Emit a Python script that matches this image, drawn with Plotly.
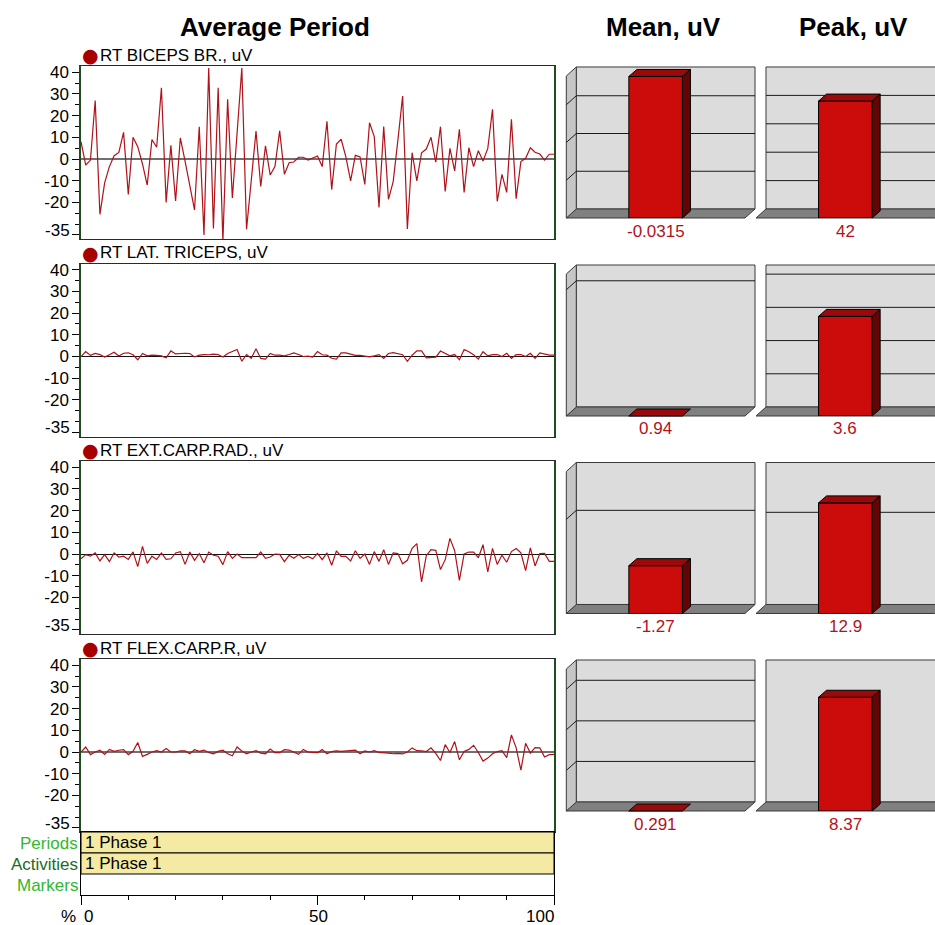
import plotly.graph_objects as go

# ---------------------------------------------------------------- data
PCT = list(range(0, 101))

CHANNELS = ["RT BICEPS BR., uV", "RT LAT. TRICEPS, uV", "RT EXT.CARP.RAD., uV", "RT FLEX.CARP.R, uV"]

BICEPS = [8, -2.8, -0.5, 27, -25.5, -11, -3.5, 1.5, 3, 12.3,
          -16.3, 10, 5.7, -2.3, -12, 9, 5.4, 32.9, -20, 6.3,
          -19.4, 9.7, -1, -12, -23.5, 14.9, -35, 42, -32, 32.9,
          -38, 27.5, -18, 12, 42, -32.4, -9, 12.9, -12.7, 6.1,
          -7.4, -3.5, 13, -7, -1.7, -1.4, 0.8, 0.8, -0.5, 0.5,
          1.4, -3.5, 17.4, -14.1, 6.9, 9.1, 1, -10.1, 1.7, 1,
          -11.7, 16.7, 10.3, -22.4, 15, -18.6, -10.4, 8.8, 29, -32.3,
          2.9, -10.1, 2.9, 4.6, 10, -1.5, 14.9, -15, 4.9, -5.5,
          13.7, -15.4, 5.2, -3.5, 3.8, -0.9, 4.9, 22.9, -19.5, -7.1,
          -15.4, 18.3, -18.3, -1.2, 0.3, 5.2, 3.1, 2.3, -0.5, 2.2, 2.2]

TRICEPS = [0, 2.3, 0.5, 1.4, 0.9, -0.3, 0.8, 2.0, 0.2, 1.5,
           1.7, 0.8, -1.5, 1.4, 0.3, 0.6, 0.5, 0.3, -0.6, 2.6,
           1.2, 1.5, 1.5, 1.4, -0.2, 0.6, 0.9, 0.8, 1.1, 0.9,
           -0.2, 1.4, 2.3, 3.2, -2.2, 0.9, -0.8, 3.6, -0.9, -1.2,
           1.4, 0.6, 0.6, 0.3, 0.9, 1.7, 0.9, 0, 0.2, -0.3,
           2.3, 0.8, 0.6, -0.8, -1.2, 1.7, 1.7, 1.2, 0.5, 0.5,
           0.3, -0.2, 0.3, 0.9, -0.9, 1.4, 1.8, 1.2, 0.8, -2.2,
           0.6, 2.6, 2.6, -0.6, -0.3, -0.3, 2.5, 1.4, 0.3, 0.9,
           -1.5, 3.2, 2.2, 0.8, -1.2, 2.2, 0.3, 0.9, 0.9, 0,
           1.5, -0.9, 0.9, 0.9, 0, 1.5, -0.9, 1.7, 1.1, 0.6, 0.6]

EXT_CARP = [-2.2, -0.3, -1, 0.5, -3.2, -0.3, -3.5, 0.5, -1.4, -1,
            -2.5, 1, -5.8, 3.5, -4.3, -1, -2.5, 0.5, -2.5, -2.2,
            0.5, 1.1, -4.8, 0.9, -2.9, 0.2, -4, 0.9, -0.6, -1,
            -4.9, 1.1, -2, 0, -1.7, -1.7, -1.7, -1.7, 0.9, -2,
            -1.4, 0, -0.2, -3.5, -0.6, -2, -0.3, -2.0, -1.1, -2.2,
            0.3, -2.6, 0.5, -5.2, 1.4, -1.1, -1.1, -3.2, 1.5, -2.0,
            0, -4.8, 1.1, -3.4, 2.0, -4.8, 0.5, 0.2, -4.5, -2.9,
            2.6, 4.8, -12.9, -0.8, 2.0, 1.7, -7.2, -2.6, 7.2, 1.5,
            -12.2, 0, 0.9, 0.9, -1.7, 4.3, -8.3, 2.6, -4.8, -0.5,
            -3.8, 1.1, 2.5, 0.5, -7.7, 2.8, -5.5, 0.2, 0.3, -3.4, -3.4]

FLEX_CARP = [0, 2.3, -1.2, 0, 0.8, -1.1, 1.2, 0.3, 0.8, 1.1,
             -1.2, 0.3, 4.4, -2, -1.1, 0, 0.6, 0, 1.6, 0,
             0, 0.5, 0.5, -0.8, 1.1, 0.3, 0.9, -0.2, -0.8, 0.3,
             0.8, -0.8, -1.7, 2.3, 0.5, -0.8, 0, 0.6, -0.5, -0.8,
             1.4, -0.3, -0.3, 1.1, 0.9, 0, -1.1, 1.2, 0, -0.2,
             -0.3, 1.1, -0.8, 0.2, 0.5, 0.3, 0.5, 0.8, 0.9, -0.8,
             0.5, 0, 0.6, -0.2, -0.2, -0.5, -0.8, -0.6, -0.9, 0,
             1.9, 0.6, 0.5, 0.2, 1.9, -0.6, -3.9, 3.4, -0.2, 4.8,
             -3.6, 0.2, 1.2, 3.1, -0.2, -4.2, -2.8, -0.8, 0.2, 0.6,
             -2.6, 7.9, 1.9, -8.37, 4.0, -0.5, 2.0, 1.9, -2.3, -1.2, -1.1]

WAVES = [BICEPS, TRICEPS, EXT_CARP, FLEX_CARP]

Y_TICKS = [40, 30, 20, 10, 0, -10, -20, -35]
Y_MINOR = [35, 25, 15, 5, -5, -15, -25, -30]
Y_BOTTOM_TICK = -35            # its label sits just above the tick
X_TICKS = [0, 50, 100]
X_MINOR = [10, 20, 30, 40, 60, 70, 80, 90]

MEAN_VALUES = [-0.0315, 0.94, -1.27, 0.291]
MEAN_LABELS = ["-0.0315", "0.94", "-1.27", "0.291"]
PEAK_VALUES = [42, 3.6, 12.9, 8.37]
PEAK_LABELS = ["42", "3.6", "12.9", "8.37"]

# value-axis extents of the little 3D bar charts and their wall gridlines
MEAN_RANGE = [-0.0316, -1.125, -3.77, -0.35]
MEAN_GRID = [[-0.0084, -0.0168, -0.0252], [-1.0], [-2.5], [-0.1, -0.2, -0.3]]
PEAK_RANGE = [51, 5.13, 16.56, 10.45]
PEAK_GRID = [[10.2, 20.4, 30.6, 40.8], [1.2, 2.4, 3.6, 4.8], [10.75], []]

PERIODS = [("1 Phase 1", 0, 100)]
ACTIVITIES = [("1 Phase 1", 0, 100)]

# ---------------------------------------------------------------- geometry
W, H = 935, 925
FONT = "Liberation Sans, Arial, sans-serif"
LINE_RED = "#b0121a"
TXT = 17


def fx(p):
    return p / W


def fy(p):
    return 1 - p / H


WAVE_LEFT, WAVE_RIGHT = 81, 554
WAVE_TOPS = [66, 263.5, 461, 659]
WAVE_H = 173
Y_RANGE = [-36.9, 42.9]
ZERO_STYLE = [("#707070", 2), ("#111111", 1.2), ("#111111", 1.2), ("#707070", 2)]

STRIP_TOP, STRIP_BOTTOM = 832, 895

WALL_TOPS = [67, 265, 462.5, 660]
WALL_H = 142
DEPTH_X, DEPTH_Y = 10, 9       # wall depth (back plane -> front plane)
BAR_DX, BAR_DY = 8, 7          # bar depth
WALL_W = 178.7
MEAN_WALL_LEFT = 576.3
PEAK_WALL_LEFT = 766
BAR_WIDTH = 0.3

fig = go.Figure()
layout = dict(
    width=W, height=H,
    margin=dict(l=0, r=0, t=0, b=0, autoexpand=False),
    paper_bgcolor="white", plot_bgcolor="rgba(0,0,0,0)",
    showlegend=False,
    font=dict(family=FONT, size=TXT, color="black"),
)
shapes = []
annotations = []

# ---------------------------------------------------------------- waveform panels
for i, (name, vals) in enumerate(zip(CHANNELS, WAVES)):
    n = i + 1
    top = WAVE_TOPS[i]
    xa = "xaxis" if n == 1 else f"xaxis{n}"
    ya = "yaxis" if n == 1 else f"yaxis{n}"
    xr = "x" if n == 1 else f"x{n}"
    yr = "y" if n == 1 else f"y{n}"
    zc, zw = ZERO_STYLE[i]
    layout[xa] = dict(
        domain=[fx(WAVE_LEFT), fx(WAVE_RIGHT)], range=[0, 100], anchor=yr,
        showgrid=False, zeroline=False, showticklabels=False, ticks="",
        showline=True, mirror=True, linecolor="#2a2a2a", linewidth=1,
    )
    layout[ya] = dict(
        domain=[fy(top + WAVE_H), fy(top)], range=Y_RANGE, anchor=xr,
        showgrid=False, zeroline=True, zerolinecolor=zc, zerolinewidth=zw,
        tickmode="array", tickvals=Y_TICKS,
        ticktext=["" if v == Y_BOTTOM_TICK else str(v) for v in Y_TICKS],
        ticks="outside", ticklen=7, tickcolor="black", tickwidth=1,
        tickfont=dict(size=TXT, family=FONT, color="black"),
        minor=dict(tickmode="array", tickvals=Y_MINOR, ticks="outside",
                   ticklen=4, tickcolor="black", showgrid=False),
        showline=True, mirror=True, linecolor="#1f4d1f", linewidth=1.5,
    )
    # overlaid axis carrying only the bottom label, lifted above its tick
    lab_n = 14 + i
    layout[f"yaxis{lab_n}"] = dict(
        overlaying=yr, anchor=xr, side="left", range=Y_RANGE,
        tickmode="array", tickvals=[Y_BOTTOM_TICK], ticktext=[str(Y_BOTTOM_TICK)],
        ticks="outside", ticklen=7, tickcolor="rgba(0,0,0,0)", ticklabelshift=-5,
        tickfont=dict(size=TXT, family=FONT, color="black"),
        showgrid=False, zeroline=False, showline=False, fixedrange=True,
    )
    fig.add_trace(go.Scatter(x=[None], y=[None], xaxis=xr, yaxis=f"y{lab_n}",
                             mode="lines", hoverinfo="skip"))
    fig.add_trace(go.Scatter(
        x=PCT, y=vals, mode="lines", line=dict(color=LINE_RED, width=1.2),
        xaxis=xr, yaxis=yr, hoverinfo="skip",
    ))
    # channel caption with its colour dot
    annotations.append(dict(
        x=fx(90), y=fy(top - 11), xref="paper", yref="paper", text="●",
        showarrow=False, xanchor="center", yanchor="middle",
        font=dict(size=19, color="#a80000", family="DejaVu Sans"),
    ))
    annotations.append(dict(
        x=fx(98), y=fy(top - 11), xref="paper", yref="paper", text=name,
        showarrow=False, xanchor="left", yanchor="middle",
        font=dict(size=TXT, color="black", family=FONT),
    ))

# ---------------------------------------------------------------- periods / activities strip
layout["xaxis5"] = dict(
    domain=[fx(WAVE_LEFT), fx(WAVE_RIGHT)], range=[0, 100], anchor="y5",
    showgrid=False, zeroline=False, showticklabels=False,
    tickmode="array", tickvals=X_TICKS, ticks="outside", ticklen=9,
    tickcolor="black", tickwidth=1,
    minor=dict(tickmode="array", tickvals=X_MINOR, ticks="outside",
               ticklen=4, tickcolor="black", showgrid=False),
    showline=True, mirror=True, linecolor="black", linewidth=1,
)
layout["yaxis5"] = dict(
    domain=[fy(STRIP_BOTTOM), fy(STRIP_TOP)], range=[0, 3], anchor="x5",
    showgrid=False, zeroline=False, showticklabels=False, ticks="",
    showline=True, mirror=True, linecolor="black", linewidth=1,
)
for row_y, items in ((2.5, PERIODS), (1.5, ACTIVITIES)):
    fig.add_trace(go.Bar(
        orientation="h", y=[row_y] * len(items),
        x=[e - s for _, s, e in items], base=[s for _, s, e in items],
        width=1, marker=dict(color="#f5eaa3", line=dict(color="black", width=1)),
        xaxis="x5", yaxis="y5", hoverinfo="skip",
    ))
    for t, s, e in items:
        annotations.append(dict(
            x=s, y=row_y, xref="x5", yref="y5", text=t, showarrow=False,
            xanchor="left", yanchor="middle", xshift=2,
            font=dict(size=TXT, color="black", family=FONT),
        ))
strip_rows = [("Periods", "#2fb82f"), ("Activities", "#1d6b1d"), ("Markers", "#2fb82f")]
row_h = (STRIP_BOTTOM - STRIP_TOP) / 3
for k, (lab, col) in enumerate(strip_rows):
    annotations.append(dict(
        x=fx(79), y=fy(STRIP_TOP + row_h * (k + 0.5) + 1), xref="paper", yref="paper",
        text=lab, showarrow=False, xanchor="right", yanchor="middle", borderpad=0,
        font=dict(size=TXT, color=col, family=FONT),
    ))
for v, anchor in zip(X_TICKS, ["left", "center", "right"]):
    annotations.append(dict(
        x=v, y=fy(916), xref="x5", yref="paper", text=str(v), showarrow=False,
        xanchor=anchor, yanchor="middle", xshift=2 if anchor == "right" else 1,
        font=dict(size=TXT, color="black", family=FONT),
    ))
annotations.append(dict(
    x=fx(78), y=fy(916), xref="paper", yref="paper", text="%", showarrow=False,
    xanchor="right", yanchor="middle", font=dict(size=TXT, color="black", family=FONT),
))

# ---------------------------------------------------------------- headers
for txt, cx in (("Average Period", 275), ("Mean, uV", 663), ("Peak, uV", 853)):
    annotations.append(dict(
        x=fx(cx), y=fy(27), xref="paper", yref="paper", text=f"<b>{txt}</b>",
        showarrow=False, xanchor="center", yanchor="middle",
        font=dict(size=26, color="black", family=FONT),
    ))


# ---------------------------------------------------------------- 3D bar panels
def path(points):
    return "M " + " L ".join(f"{fx(x):.5f},{fy(y):.5f}" for x, y in points) + " Z"


def line_shape(x0, y0, x1, y1, color="#1a1a1a", width=1, layer="below"):
    return dict(type="line", xref="paper", yref="paper", x0=fx(x0), y0=fy(y0),
                x1=fx(x1), y1=fy(y1), line=dict(color=color, width=width), layer=layer)


n = 6
for r in range(4):
    wall_top = WALL_TOPS[r]
    floor = wall_top + WALL_H
    for kind, values, labels, ranges, grids, wall_left in (
        ("mean", MEAN_VALUES, MEAN_LABELS, MEAN_RANGE, MEAN_GRID, MEAN_WALL_LEFT),
        ("peak", PEAK_VALUES, PEAK_LABELS, PEAK_RANGE, PEAK_GRID, PEAK_WALL_LEFT),
    ):
        v, lab, rng, grid = values[r], labels[r], ranges[r], grids[r]
        wall_right = wall_left + WALL_W
        # back wall, floor and (for the mean chart) the left side wall
        shapes.append(dict(type="path", xref="paper", yref="paper",
                           path=path([(wall_left, wall_top), (wall_right, wall_top),
                                      (wall_right, floor), (wall_left, floor)]),
                           fillcolor="#dcdcdc", line=dict(color="#3a3a3a", width=1), layer="below"))
        shapes.append(dict(type="path", xref="paper", yref="paper",
                           path=path([(wall_left, floor), (wall_right, floor),
                                      (wall_right - DEPTH_X, floor + DEPTH_Y),
                                      (wall_left - DEPTH_X, floor + DEPTH_Y)]),
                           fillcolor="#808080", line=dict(color="#3a3a3a", width=1), layer="below"))
        if kind == "mean":
            shapes.append(dict(type="path", xref="paper", yref="paper",
                               path=path([(wall_left, wall_top), (wall_left, floor),
                                          (wall_left - DEPTH_X, floor + DEPTH_Y),
                                          (wall_left - DEPTH_X, wall_top + DEPTH_Y)]),
                               fillcolor="#c6c6c6", line=dict(color="#3a3a3a", width=1), layer="below"))
        for g in grid:
            gy = floor - WALL_H * g / rng
            shapes.append(line_shape(wall_left, gy, wall_right, gy))
            if kind == "mean":
                shapes.append(line_shape(wall_left, gy, wall_left - DEPTH_X, gy + DEPTH_Y))

        # front plane axes carry the bar itself
        f_left = wall_left - DEPTH_X
        f_top = wall_top + DEPTH_Y
        f_bottom = floor + DEPTH_Y
        layout[f"xaxis{n}"] = dict(
            domain=[fx(f_left), fx(min(f_left + WALL_W, W))],
            range=[-0.5, 0.5 - max(0, f_left + WALL_W - W) / WALL_W], anchor=f"y{n}",
            visible=False, fixedrange=True,
        )
        layout[f"yaxis{n}"] = dict(
            domain=[fy(f_bottom), fy(f_top)], range=[0, rng], anchor=f"x{n}",
            visible=False, fixedrange=True,
        )
        fig.add_trace(go.Bar(
            x=[0], y=[v], width=BAR_WIDTH,
            marker=dict(color="#cc0b0b", line=dict(color="black", width=1)),
            xaxis=f"x{n}", yaxis=f"y{n}", hoverinfo="skip",
        ))
        # top and side faces follow the bar's height on the same scale
        frac = min(max(v / rng, 0.0), 1.0)
        yv = f_bottom - frac * WALL_H
        cx = f_left + WALL_W / 2
        x0, x1 = cx - BAR_WIDTH * WALL_W / 2, cx + BAR_WIDTH * WALL_W / 2
        shapes.append(dict(type="path", xref="paper", yref="paper",
                           path=path([(x0, yv), (x1, yv), (x1 + BAR_DX, yv - BAR_DY),
                                      (x0 + BAR_DX, yv - BAR_DY)]),
                           fillcolor="#9b0a0a", line=dict(color="black", width=1), layer="above"))
        if frac > 0:
            shapes.append(dict(type="path", xref="paper", yref="paper",
                               path=path([(x1, yv), (x1 + BAR_DX, yv - BAR_DY),
                                          (x1 + BAR_DX, f_bottom - BAR_DY), (x1, f_bottom)]),
                               fillcolor="#640505", line=dict(color="black", width=1), layer="above"))
        annotations.append(dict(
            x=fx(cx), y=fy(f_bottom + 13), xref="paper", yref="paper", text=lab,
            showarrow=False, xanchor="center", yanchor="middle",
            font=dict(size=TXT, color="#b3121a", family=FONT),
        ))
        n += 1

layout["shapes"] = shapes
layout["annotations"] = annotations
fig.update_layout(**layout)
# keep every panel exactly where its domain puts it
fig.update_xaxes(automargin=False)
fig.update_yaxes(automargin=False)
fig.write_html("out.html")
